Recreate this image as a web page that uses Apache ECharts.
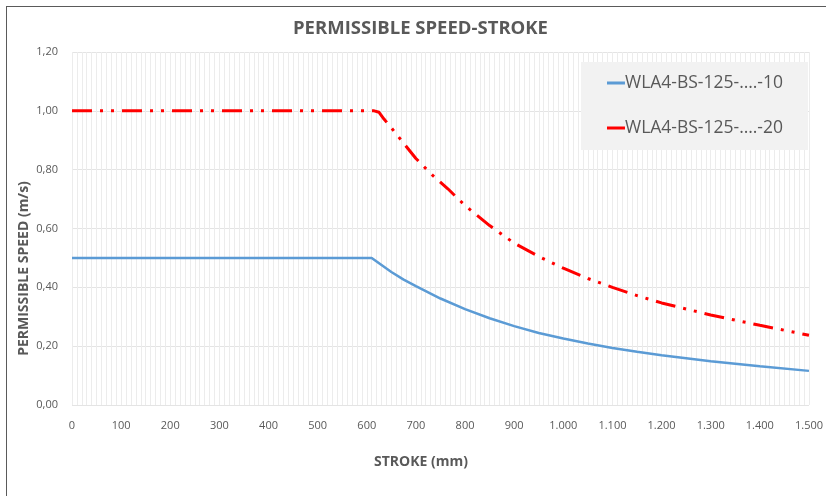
<!DOCTYPE html>
<html>
<head>
<meta charset="utf-8">
<script src="https://cdn.jsdelivr.net/npm/echarts@6/dist/echarts.min.js"></script>
<style>
  html, body { margin: 0; padding: 0; background: #fff; }
  #chart { position: absolute; left: 0; top: 0; width: 826px; height: 496px; }
  #frame { position: absolute; left: 6px; top: 6px; width: 830px; height: 500px;
           border-left: 1.5px solid #5a5a5a; border-top: 1.5px solid #5a5a5a; }
</style>
</head>
<body>
<div id="frame"></div>
<div id="chart"></div>
<script>
var seriesNames = ['WLA4-BS-125-….-10', 'WLA4-BS-125-….-20'];

// stroke (mm), permissible speed (m/s)
var stroke10 = [0, 610, 630, 650, 675, 700, 750, 800, 850, 900, 950, 1000, 1050, 1100, 1150, 1200, 1300, 1400, 1500];
var speed10 = [0.50, 0.50, 0.476, 0.452, 0.426, 0.404, 0.362, 0.326, 0.295, 0.268, 0.245, 0.226, 0.209, 0.194, 0.181, 0.169, 0.149, 0.132, 0.116];

var stroke20 = [0, 615, 625, 635, 650, 675, 700, 733, 765, 800, 850, 900, 950, 1000, 1050, 1100, 1150, 1200, 1300, 1400, 1500];
var speed20 = [1.00, 1.00, 0.995, 0.972, 0.942, 0.89, 0.838, 0.782, 0.735, 0.678, 0.61, 0.55, 0.505, 0.465, 0.43, 0.40, 0.372, 0.347, 0.306, 0.271, 0.237];

var yTicks = ['0,00', '0,20', '0,40', '0,60', '0,80', '1,00', '1,20'];

function pairs(xs, ys) {
  return xs.map(function (x, i) { return [x, ys[i]]; });
}

var myChart = echarts.init(document.getElementById('chart'));

var gridColor = '#ececec';
var textColor = '#595959';
var fontFam = '"Open Sans", "Liberation Sans", sans-serif';

var option = {
  animation: false,
  title: {
    text: 'PERMISSIBLE SPEED-STROKE',
    left: 288,
    top: 14,
    textStyle: { color: textColor, fontSize: 18.5, fontWeight: 'bold', fontFamily: fontFam }
  },
  grid: { left: 72, right: 9, top: 52, bottom: 91 },
  legend: {
    orient: 'vertical',
    right: 18,
    top: 62,
    padding: [12, 25, 13, 26],
    itemGap: 27,
    itemWidth: 18,
    itemHeight: 3,
    backgroundColor: '#f2f2f2',
    icon: 'rect',
    textStyle: { color: textColor, fontSize: 17.5, fontFamily: fontFam, padding: [0, 0, 0, -5] },
    data: seriesNames
  },
  xAxis: {
    type: 'value',
    min: 0,
    max: 1500,
    interval: 100,
    name: 'STROKE (mm)',
    nameLocation: 'middle',
    nameGap: 50,
    nameTextStyle: { color: textColor, fontSize: 14, fontWeight: 'bold', fontFamily: fontFam, padding: [0, 39, 0, 0] },
    axisLine: { show: false },
    axisTick: { show: false },
    axisLabel: {
      color: textColor, fontSize: 11, fontFamily: fontFam, margin: 15,
      formatter: function (v) { return String(v).replace(/\B(?=(\d{3})+(?!\d))/g, '.'); }
    },
    splitLine: { show: true, lineStyle: { color: gridColor, width: 1 } },
    minorTick: { show: false, splitNumber: 10 },
    minorSplitLine: { show: true, lineStyle: { color: gridColor, width: 1 } }
  },
  yAxis: {
    type: 'value',
    min: 0,
    max: 1.2,
    interval: 0.2,
    name: 'PERMISSIBLE SPEED (m/s)',
    nameLocation: 'middle',
    nameGap: 41,
    nameMoveOverlap: false,
    nameTextStyle: { color: textColor, fontSize: 14, fontWeight: 'bold', fontFamily: fontFam, padding: [0, 80, 0, 0] },
    axisLine: { show: false },
    axisTick: { show: false },
    axisLabel: {
      color: textColor, fontSize: 11, fontFamily: fontFam, margin: 14,
      formatter: function (v) { return yTicks[Math.round(v / 0.2)]; }
    },
    splitLine: { show: true, lineStyle: { color: '#e4e4e4', width: 1 } }
  },
  series: [
    {
      name: seriesNames[0],
      type: 'line',
      data: pairs(stroke10, speed10),
      showSymbol: false,
      color: '#5b9bd5',
      lineStyle: { color: '#5b9bd5', width: 2.5 }
    },
    {
      name: seriesNames[1],
      type: 'line',
      data: pairs(stroke20, speed20),
      showSymbol: false,
      color: '#ff0000',
      lineStyle: { color: '#ff0000', width: 3, type: [20, 8, 3, 8, 3, 8], cap: 'butt' }
    }
  ]
};

myChart.setOption(option);
</script>
</body>
</html>
